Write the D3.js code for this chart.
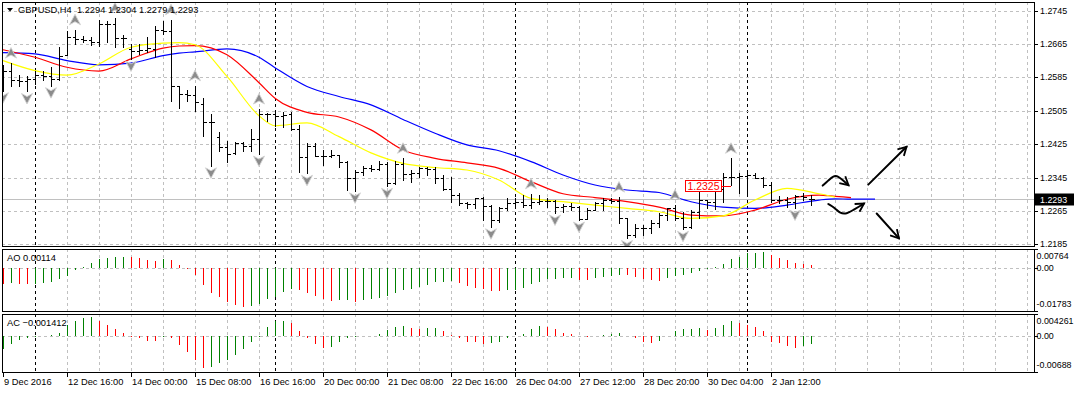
<!DOCTYPE html>
<html>
<head>
<meta charset="utf-8">
<script src="https://cdn.jsdelivr.net/npm/d3@7"></script>
<style>
body { margin: 0; background: #fff; }
svg { display: block; font-family: "Liberation Sans", Arial, sans-serif; font-size: 9.3px; }
text { white-space: pre; }
.axis-label { font-size: 8.9px; }
</style>
</head>
<body>
<svg id="chart" width="1074" height="393"></svg>
<script>
// ---- GBPUSD H4 bars (bar 0 = 9 Dec 2016 08:00)
var opens = [1.2612,1.2601,1.2579,1.2577,1.2580,1.2591,1.2587,1.2581,1.2639,1.2681,
  1.2677,1.2675,1.2669,1.2713,1.2713,1.2679,1.2653,1.2649,1.2651,1.2653,
  1.2699,1.2697,1.2563,1.2545,1.2543,1.2521,1.2479,1.2441,1.2417,1.2403,
  1.2427,1.2421,1.2437,1.2497,1.2497,1.2493,1.2497,1.2460,1.2393,1.2420,
  1.2396,1.2396,1.2398,1.2383,1.2343,1.2359,1.2367,1.2365,1.2378,1.2331,
  1.2378,1.2353,1.2355,1.2367,1.2365,1.2345,1.2317,1.2303,1.2283,1.2281,
  1.2297,1.2276,1.2244,1.2271,1.2283,1.2287,1.2279,1.2287,1.2289,1.2289,
  1.2274,1.2277,1.2274,1.2245,1.2267,1.2283,1.2290,1.2289,1.2247,1.2207,
  1.2223,1.2223,1.2235,1.2255,1.2271,1.2247,1.2227,1.2263,1.2291,1.2287,
  1.2317,1.2347,1.2347,1.2349,1.2351,1.2343,1.2327,1.2291,1.2291,1.2287,
  1.2301,1.2294];
var highs = [1.2615,1.2619,1.2591,1.2587,1.2601,1.2599,1.2609,1.2657,1.2697,1.2699,
  1.2685,1.2681,1.2723,1.2721,1.2727,1.2687,1.2665,1.2665,1.2681,1.2709,
  1.2721,1.2723,1.2563,1.2555,1.2565,1.2536,1.2497,1.2453,1.2433,1.2429,
  1.2429,1.2461,1.2509,1.2499,1.2501,1.2501,1.2503,1.2471,1.2428,1.2428,
  1.2411,1.2411,1.2399,1.2384,1.2363,1.2372,1.2375,1.2385,1.2383,1.2385,
  1.2391,1.2363,1.2371,1.2369,1.2369,1.2351,1.2347,1.2307,1.2287,1.2297,
  1.2299,1.2279,1.2275,1.2295,1.2295,1.2303,1.2306,1.2303,1.2295,1.2291,
  1.2282,1.2283,1.2277,1.2271,1.2287,1.2295,1.2295,1.2298,1.2247,1.2234,
  1.2231,1.2243,1.2259,1.2272,1.2279,1.2263,1.2267,1.2311,1.2291,1.2319,
  1.2355,1.2391,1.2355,1.2357,1.2355,1.2347,1.2335,1.2301,1.2299,1.2303,
  1.2309,1.2304];
var lows = [1.2553,1.2565,1.2563,1.2551,1.2569,1.2579,1.2565,1.2579,1.2639,1.2665,
  1.2669,1.2663,1.2661,1.2669,1.2657,1.2657,1.2629,1.2641,1.2645,1.2633,
  1.2689,1.2529,1.2511,1.2529,1.2505,1.2445,1.2373,1.2409,1.2381,1.2401,
  1.2409,1.2409,1.2401,1.2481,1.2469,1.2467,1.2458,1.2359,1.2355,1.2396,
  1.2375,1.2393,1.2369,1.2315,1.2313,1.2351,1.2361,1.2363,1.2324,1.2329,
  1.2340,1.2335,1.2347,1.2351,1.2331,1.2315,1.2287,1.2279,1.2271,1.2271,
  1.2243,1.2227,1.2239,1.2267,1.2279,1.2275,1.2271,1.2281,1.2275,1.2260,
  1.2263,1.2266,1.2243,1.2245,1.2266,1.2267,1.2283,1.2235,1.2199,1.2203,
  1.2207,1.2211,1.2227,1.2243,1.2243,1.2221,1.2223,1.2247,1.2271,1.2269,
  1.2287,1.2327,1.2307,1.2303,1.2343,1.2323,1.2287,1.2285,1.2275,1.2272,
  1.2291,1.2279];
var closes = [1.2600,1.2579,1.2577,1.2580,1.2591,1.2587,1.2581,1.2637,1.2681,1.2677,
  1.2675,1.2669,1.2713,1.2713,1.2679,1.2679,1.2649,1.2651,1.2655,1.2699,
  1.2697,1.2565,1.2545,1.2543,1.2525,1.2479,1.2478,1.2417,1.2401,1.2427,
  1.2421,1.2437,1.2497,1.2497,1.2493,1.2495,1.2460,1.2393,1.2420,1.2396,
  1.2396,1.2398,1.2383,1.2343,1.2359,1.2367,1.2365,1.2378,1.2331,1.2378,
  1.2353,1.2355,1.2367,1.2365,1.2345,1.2317,1.2303,1.2283,1.2281,1.2297,
  1.2276,1.2244,1.2271,1.2283,1.2287,1.2279,1.2287,1.2289,1.2289,1.2274,
  1.2277,1.2274,1.2245,1.2267,1.2283,1.2290,1.2289,1.2247,1.2207,1.2223,
  1.2223,1.2235,1.2255,1.2271,1.2247,1.2227,1.2263,1.2291,1.2287,1.2317,
  1.2347,1.2347,1.2349,1.2351,1.2343,1.2327,1.2291,1.2291,1.2287,1.2301,
  1.2298,1.2293];

// alligator lines, sampled at these bars (shifted lines run past the last bar)
var maBars = [0,4,8,12,16,20,22,24,28,32,34,38,42,46,50,54,58,62,66,70,74,78,82,86,90,94,98,102,104,106,109];
var jaw = [1.2644,1.2641,1.2625,1.2615,1.2619,1.2637,1.2643,1.2646,1.2653,1.2633,
  1.2608,1.2563,1.2539,1.2519,1.2484,1.2451,1.2423,1.2409,1.2383,
  1.2351,1.2327,1.2315,1.2309,1.2287,1.2274,1.2271,1.2279,1.2291,
  1.2294,1.2293,1.2293];
var teeth = [1.2651,1.2633,1.2609,1.2600,1.2629,1.2655,1.2660,1.2661,1.2639,1.2572,
  1.2535,1.2501,1.2490,1.2459,1.2411,1.2391,1.2380,1.2367,1.2335,
  1.2306,1.2297,1.2287,1.2274,1.2255,1.2253,1.2267,1.2293,1.2303,
  1.2300,1.2297,null];
var lips = [1.2625,1.2601,1.2590,1.2617,1.2657,1.2667,1.2668,1.2663,1.2587,1.2493,
  1.2469,1.2476,1.2443,1.2404,1.2379,1.2369,1.2363,1.2339,1.2295,
  1.2287,1.2279,1.2271,1.2263,1.2247,1.2253,1.2291,1.2319,1.2306,
  1.2298,null,null];

var upFractals = [1, 9, 14, 21, 24, 32, 50, 66, 77, 84, 91];
var downFractals = [0, 3, 6, 16, 26, 32, 38, 44, 48, 61, 69, 72, 78, 85, 99];

// Awesome Oscillator / Accelerator
var aoPrev = -0.0064, acPrev = -0.0030;
var ao = [-0.0066,-0.0065,-0.0066,-0.0067,-0.0066,-0.0062,-0.0061,-0.0048,-0.0034,-0.0011,
  0.0003,0.0018,0.0034,0.0041,0.0042,0.0043,0.0042,0.0038,0.0032,0.0027,
  0.0034,0.0031,0.0010,-0.0007,-0.0030,-0.0071,-0.0105,-0.0119,-0.0140,-0.0153,
  -0.0162,-0.0158,-0.0151,-0.0130,-0.0121,-0.0100,-0.0089,-0.0092,-0.0103,-0.0116,
  -0.0130,-0.0137,-0.0134,-0.0133,-0.0140,-0.0133,-0.0130,-0.0123,-0.0116,-0.0103,
  -0.0093,-0.0086,-0.0079,-0.0071,-0.0059,-0.0058,-0.0057,-0.0062,-0.0075,-0.0082,
  -0.0089,-0.0096,-0.0097,-0.0092,-0.0091,-0.0082,-0.0069,-0.0058,-0.0048,-0.0047,
  -0.0044,-0.0043,-0.0049,-0.0050,-0.0041,-0.0038,-0.0034,-0.0030,-0.0031,-0.0037,
  -0.0047,-0.0051,-0.0055,-0.0044,-0.0034,-0.0030,-0.0023,-0.0014,-0.0004,0.0001,
  0.0014,0.0034,0.0044,0.0058,0.0062,0.0063,0.0051,0.0041,0.0032,0.0018,
  0.0014,0.00114];
var ac = [-0.0024,-0.0015,-0.0008,-0.0003,-0.0001,0.0001,0.0002,0.0007,0.0021,0.0029,
  0.0035,0.0036,0.0030,0.0022,0.0013,0.0006,-0.0001,-0.0003,-0.0009,-0.0010,
  -0.0001,-0.0004,-0.0016,-0.0030,-0.0046,-0.0061,-0.0059,-0.0052,-0.0045,-0.0036,
  -0.0025,-0.0011,-0.0001,0.0018,0.0029,0.0030,0.0026,0.0010,-0.0004,-0.0015,
  -0.0022,-0.0020,-0.0011,-0.0004,-0.0001,0.0000,0.0001,0.0005,0.0012,0.0018,
  0.0019,0.0016,0.0013,0.0015,0.0016,0.0010,0.0003,-0.0003,-0.0011,-0.0012,
  -0.0015,-0.0014,-0.0011,-0.0003,0.0001,0.0005,0.0013,0.0019,0.0018,0.0013,
  0.0007,0.0004,0.0001,-0.0001,0.0000,0.0002,0.0005,0.0006,0.0001,-0.0003,
  -0.0011,-0.0013,-0.0009,0.0001,0.0010,0.0013,0.0014,0.0015,0.0012,0.0015,
  0.0021,0.0029,0.0026,0.0021,0.0018,0.0010,-0.0011,-0.0013,-0.0019,-0.0022,
  -0.0019,-0.001412];

// axis ticks
var priceTicks = [1.2745, 1.2665, 1.2585, 1.2505, 1.2425, 1.2345, 1.2265, 1.2185];
var aoTicks = [0.00764, 0, -0.01783];
var aoTickLabels = ["0.00764", "0.00", "-0.01783"];
var acTicks = [0.004261, 0, -0.00688];
var acTickLabels = ["0.004261", "0.00", "-0.00688"];
var timeBars = [0, 8, 16, 24, 32, 40, 48, 56, 64, 72, 80, 88, 96];
var timeLabels = ["9 Dec 2016", "12 Dec 16:00", "14 Dec 00:00", "15 Dec 08:00", "16 Dec 16:00",
  "20 Dec 00:00", "21 Dec 08:00", "22 Dec 16:00", "26 Dec 04:00", "27 Dec 12:00",
  "28 Dec 20:00", "30 Dec 04:00", "2 Jan 12:00"];
var weekBars = [4, 34, 64, 93];   // period separators

// price label object and hand drawn arrows (bar, price)
var priceMark = {bar: 91, price: 1.2325};
var arrowWave1 = [[102.46,1.23256],[103.16,1.23375],[103.79,1.23494],[104.41,1.23482],[105.04,1.23375],[105.69,1.23267]];
var arrowWave2 = [[103.16,1.22815],[104.0,1.22720],[104.63,1.22588],[105.46,1.22577],[106.29,1.22672],[107.13,1.22767],[107.63,1.22827]];
var arrowUp = [[108.16,1.23279],[112.94,1.24185]];
var arrowDown = [[109.21,1.22588],[112.0,1.21992]];

var plotL = 2, plotR = 1034;
var mainTop = 2, mainBot = 246, aoTop = 249, aoBot = 311, acTop = 314, acBot = 372;

var x = d3.scaleLinear().domain([0, 100]).range([3, 803]);
var y = d3.scaleLinear().domain([1.2185, 1.2745]).range([244.3, 10.5]);
var yAO = d3.scaleLinear().domain([-0.01783, 0.00764]).range([aoBot, aoTop]);
var yAC = d3.scaleLinear().domain([-0.00688, 0.004261]).range([acBot, acTop]);

var svg = d3.select("#chart");
var defs = svg.append("defs");
defs.append("clipPath").attr("id", "clipMain").append("rect")
    .attr("x", plotL).attr("y", mainTop).attr("width", plotR - plotL).attr("height", mainBot - mainTop);
defs.append("marker")
    .attr("id", "head")
    .attr("viewBox", "0 0 12 12")
    .attr("refX", 10).attr("refY", 6)
    .attr("markerWidth", 11).attr("markerHeight", 11)
    .attr("markerUnits", "userSpaceOnUse")
    .attr("orient", "auto")
    .append("path")
    .attr("d", "M1,1 L10,6 L1,11")
    .attr("fill", "none").attr("stroke", "#000").attr("stroke-width", 2);

function px(i) { return Math.round(x(i)) + 0.5; }

var gridBars = d3.range(4, 129, 4).filter(function(d) {
    return weekBars.indexOf(d) < 0 && x(d) < plotR - 1;
});

// grid + separators for one panel
function panelGrid(top, bot) {
    var g = svg.append("g").attr("shape-rendering", "crispEdges");
    g.selectAll(".vg").data(gridBars).enter().append("line")
        .attr("x1", px).attr("x2", px)
        .attr("y1", top).attr("y2", bot)
        .attr("stroke", "#c0c0c0").attr("stroke-dasharray", "3,3");
    g.selectAll(".sep").data(weekBars).enter().append("line")
        .attr("x1", px).attr("x2", px)
        .attr("y1", top).attr("y2", bot)
        .attr("stroke", "#000").attr("stroke-dasharray", "3,3");
    return g;
}

// ---------- main panel
var gm = panelGrid(mainTop, mainBot);
gm.selectAll(".hg").data(priceTicks).enter().append("line")
    .attr("x1", plotL).attr("x2", plotR)
    .attr("y1", function(d) { return Math.round(y(d)) + 0.5; })
    .attr("y2", function(d) { return Math.round(y(d)) + 0.5; })
    .attr("stroke", "#c0c0c0").attr("stroke-dasharray", "3,3");

var last = closes.length - 1;
// bid line
svg.append("line")
    .attr("x1", plotL).attr("x2", plotR)
    .attr("y1", Math.round(y(closes[last])) + 0.5).attr("y2", Math.round(y(closes[last])) + 0.5)
    .attr("stroke", "#c0c0c0").attr("shape-rendering", "crispEdges");

var main = svg.append("g").attr("clip-path", "url(#clipMain)");

// alligator
var maLine = d3.line()
    .defined(function(d) { return d[1] != null; })
    .x(function(d) { return x(d[0]); })
    .y(function(d) { return y(d[1]); })
    .curve(d3.curveMonotoneX);
[[jaw, "#0000ff"], [teeth, "#ff0000"], [lips, "#ffff00"]].forEach(function(s) {
    main.append("path")
        .datum(maBars.map(function(b, k) { return [b, s[0][k]]; }))
        .attr("d", maLine)
        .attr("fill", "none")
        .attr("stroke", s[1])
        .attr("stroke-width", 1.2);
});

// OHLC bars
main.append("g").attr("shape-rendering", "crispEdges")
    .selectAll("path").data(d3.range(closes.length)).enter().append("path")
    .attr("d", function(i) {
        var cx = px(i);
        var yo = Math.round(y(opens[i])) + 0.5, yc = Math.round(y(closes[i])) + 0.5;
        return "M" + cx + "," + Math.round(y(highs[i])) + "V" + (Math.round(y(lows[i])) + 1) +
            "M" + (cx - 3) + "," + yo + "H" + cx +
            "M" + cx + "," + yc + "H" + (cx + 3);
    })
    .attr("stroke", "#000").attr("fill", "none");

// fractals
function fractal(g, bars, up) {
    g.selectAll(null).data(bars).enter().append("path")
        .attr("transform", function(i) {
            var cy = up ? y(highs[i]) - 10 : y(lows[i]) + 7;
            return "translate(" + x(i) + "," + cy + ")";
        })
        .attr("d", up ? "M0,-5.5 L5.5,5 L0,2 L-5.5,5 Z" : "M0,5.5 L5.5,-5 L0,-2 L-5.5,-5 Z")
        .attr("fill", "#8c8c8c")
        .attr("stroke", "#d4d4d4")
        .attr("stroke-width", 0.9);
}
var gf = main.append("g");
fractal(gf, upFractals, true);
fractal(gf, downFractals, false);

// price label "1.2325"
var pmx = x(priceMark.bar), pmy = Math.round(y(priceMark.price)) + 0.5;
main.append("line")
    .attr("x1", pmx - 9).attr("x2", pmx)
    .attr("y1", pmy).attr("y2", pmy)
    .attr("stroke", "#ff0000");
main.append("rect")
    .attr("x", pmx - 45.5).attr("y", pmy - 6)
    .attr("width", 36).attr("height", 11)
    .attr("fill", "#fff").attr("stroke", "#ff0000");
main.append("text")
    .attr("x", pmx - 27.5).attr("y", pmy)
    .attr("dy", "0.35em")
    .attr("text-anchor", "middle")
    .attr("fill", "#ff0000")
    .style("font-size", "10.5px")
    .text(d3.format(".4f")(priceMark.price));

// hand drawn arrows
var arrowLine = d3.line()
    .x(function(d) { return x(d[0]); })
    .y(function(d) { return y(d[1]); })
    .curve(d3.curveBasis);
[arrowWave1, arrowWave2, arrowUp, arrowDown].forEach(function(a) {
    main.append("path")
        .datum(a)
        .attr("d", arrowLine)
        .attr("fill", "none")
        .attr("stroke", "#000")
        .attr("stroke-width", 2)
        .attr("stroke-linecap", "round")
        .attr("marker-end", "url(#head)");
});

// title
svg.append("path").attr("d", "M7,8 L13,8 L10,11.5 Z").attr("fill", "#000");
svg.append("text")
    .attr("x", 18).attr("y", 10)
    .attr("dy", "0.35em")
    .text("GBPUSD,H4  " + [opens[last], highs[last], lows[last], closes[last]].map(d3.format(".4f")).join(" "));

// ---------- AO panel
panelGrid(aoTop, aoBot);
svg.append("line")
    .attr("x1", plotL).attr("x2", plotR)
    .attr("y1", Math.round(yAO(0)) + 0.5).attr("y2", Math.round(yAO(0)) + 0.5)
    .attr("stroke", "#c0c0c0").attr("stroke-dasharray", "3,3").attr("shape-rendering", "crispEdges");

function histogram(vals, prev, ys) {
    svg.append("g").attr("shape-rendering", "crispEdges")
        .selectAll("line").data(vals).enter().append("line")
        .attr("x1", function(d, i) { return px(i); })
        .attr("x2", function(d, i) { return px(i); })
        .attr("y1", Math.round(ys(0)))
        .attr("y2", function(d) { return Math.round(ys(d)); })
        .attr("stroke", function(d, i) {
            var p = i === 0 ? prev : vals[i - 1];
            return d > p ? "#008000" : "#ff0000";
        });
}
histogram(ao, aoPrev, yAO);
svg.append("text").attr("x", 7).attr("y", aoTop + 9).attr("dy", "0.35em")
    .text("AO " + d3.format(".5f")(ao[last]));

// ---------- AC panel
panelGrid(acTop, acBot);
svg.append("line")
    .attr("x1", plotL).attr("x2", plotR)
    .attr("y1", Math.round(yAC(0)) + 0.5).attr("y2", Math.round(yAC(0)) + 0.5)
    .attr("stroke", "#c0c0c0").attr("stroke-dasharray", "3,3").attr("shape-rendering", "crispEdges");
histogram(ac, acPrev, yAC);
svg.append("text").attr("x", 7).attr("y", acTop + 9).attr("dy", "0.35em")
    .text("AC " + d3.format(".6f")(ac[last]));

// ---------- borders
[[mainTop, mainBot], [aoTop, aoBot], [acTop, acBot]].forEach(function(p) {
    svg.append("rect")
        .attr("x", plotL + 0.5).attr("y", p[0] + 0.5)
        .attr("width", plotR - plotL).attr("height", p[1] - p[0])
        .attr("fill", "none").attr("stroke", "#000")
        .attr("shape-rendering", "crispEdges");
});

// ---------- right axis labels
function rightAxis(ticks, labels, ys, top, bot, lx) {
    var g = svg.append("g");
    g.selectAll("line").data(ticks).enter().append("line")
        .attr("x1", plotR + 0.5).attr("x2", plotR + 4)
        .attr("y1", function(d) { return Math.round(ys(d)) + 0.5; })
        .attr("y2", function(d) { return Math.round(ys(d)) + 0.5; })
        .attr("stroke", "#000").attr("shape-rendering", "crispEdges");
    g.selectAll("text").data(ticks).enter().append("text")
        .attr("class", "axis-label")
        .attr("x", lx)
        .attr("y", function(d) { return Math.max(top + 7, Math.min(bot - 7, ys(d))); })
        .attr("dy", "0.35em")
        .text(function(d, i) { return labels[i]; });
}
rightAxis(priceTicks, priceTicks.map(d3.format(".4f")), y, 0, 400, plotR + 6);
rightAxis(aoTicks, aoTickLabels, yAO, aoTop, aoBot, plotR + 2.5);
rightAxis(acTicks, acTickLabels, yAC, acTop, acBot, plotR + 2.5);

// current price box
var cy = Math.round(y(closes[last])) + 0.5;
svg.append("rect").attr("x", plotR + 1).attr("y", cy - 6).attr("width", 1074 - plotR - 1).attr("height", 12)
    .attr("fill", "#000");
svg.append("text").attr("class", "axis-label").attr("x", plotR + 6).attr("y", cy).attr("dy", "0.35em")
    .attr("fill", "#fff").text(d3.format(".4f")(closes[last]));

// ---------- time axis
var gt = svg.append("g");
gt.selectAll("line").data(timeBars).enter().append("line")
    .attr("x1", px).attr("x2", px)
    .attr("y1", acBot + 1).attr("y2", acBot + 5)
    .attr("stroke", "#000").attr("shape-rendering", "crispEdges");
gt.selectAll("text").data(timeBars).enter().append("text")
    .attr("x", function(d) { return x(d) + 1; })
    .attr("y", 382)
    .attr("dy", "0.35em")
    .text(function(d, i) { return timeLabels[i]; });
</script>
</body>
</html>
